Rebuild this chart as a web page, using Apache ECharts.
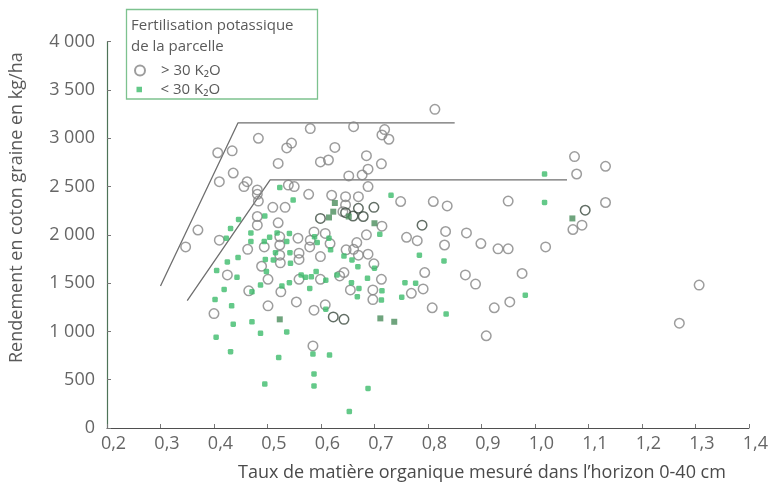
<!DOCTYPE html>
<html>
<head>
<meta charset="utf-8">
<script src="https://cdn.jsdelivr.net/npm/echarts@6/dist/echarts.min.js"></script>
<style>
html,body{margin:0;padding:0;background:#fff;}
#chart{width:771px;height:491px;}
</style>
</head>
<body>
<div id="chart"></div>
<script>
// ---- Data (x: organic matter rate, y: seed cotton yield kg/ha) ----
const xTickLabels = ['0,2','0,3','0,4','0,5','0,6','0,7','0,8','0,9','1,0','1,1','1,2','1,3','1,4'];
const yTickLabels = ['0','500','1 000','1 500','2 000','2 500','3 000','3 500','4 000'];

const seriesNames = ['> 30 K₂O', '< 30 K₂O'];

// > 30 K2O (open circles)
const over30 = [
 [0.58,3100],[0.483,3000],[0.407,2850],[0.434,2870],[0.545,2950],[0.536,2900],[0.626,2905],[0.614,2775],[0.599,2755],[0.52,2740],
 [0.436,2640],[0.41,2550],[0.462,2550],[0.456,2500],[0.539,2515],[0.55,2500],[0.481,2465],[0.481,2420],[0.577,2420],[0.62,2410],
 [0.483,2350],[0.51,2285],[0.533,2285],[0.641,2240],[0.481,2190],[0.52,2125],[0.37,2050],[0.41,1945],[0.347,1875],[0.463,1850],
 [0.481,2100],[0.523,1980],[0.523,1895],[0.557,1965],[0.579,1875],[0.587,2030],[0.58,1945],[0.608,2015],[0.617,1910],[0.494,1875],
 [0.523,1790],[0.524,1710],[0.559,1810],[0.559,1745],[0.599,1775],[0.489,1675],[0.425,1585],[0.501,1540],[0.559,1540],[0.599,1540],
 [0.635,1575],[0.465,1420],[0.525,1410],[0.4,1185],[0.501,1265],[0.554,1305],[0.587,1220],[0.608,1275],[0.585,850],
 [0.813,3300],[0.661,3120],[0.719,3090],[0.714,3035],[0.727,2990],[0.685,2820],[0.713,2735],[0.688,2680],[0.677,2620],[0.652,2610],
 [0.688,2500],[0.646,2395],[0.67,2395],[0.646,2310],[0.749,2345],[0.81,2345],[0.836,2300],[0.95,2350],[0.714,2090],[0.685,2000],
 [0.76,1975],[0.78,1940],[0.833,2035],[0.831,1895],[0.872,2020],[0.899,1910],[0.931,1855],[0.95,1855],[0.667,1920],[0.647,1845],
 [0.67,1790],[0.688,1800],[0.661,1850],[0.699,1700],[0.643,1610],[0.713,1540],[0.655,1430],[0.697,1430],[0.697,1330],[0.794,1610],
 [0.791,1440],[0.769,1395],[0.87,1585],[0.889,1490],[0.976,1600],[0.808,1245],[0.924,1245],[0.953,1305],[0.909,955],
 [1.074,2810],[1.132,2710],[1.078,2630],[1.132,2335],[1.088,2100],[1.071,2055],[1.02,1875],[1.307,1480],[1.27,1085]
];
// > 30 K2O, darker print
const over30Dark = [
 [0.599,2170],[0.67,2275],[0.699,2285],[0.646,2230],[0.66,2195],[0.679,2190],[0.789,2100],[1.094,2255],[0.623,1150],[0.643,1125]
];
// < 30 K2O (green dots)
const under30 = [
 [0.523,2490],[0.548,2360],[0.495,2195],[0.446,2160],[0.431,2065],[0.423,1965],[0.469,2020],[0.469,1930],[0.494,1930],[0.504,1975],
 [0.518,2020],[0.541,2015],[0.536,1930],[0.515,1815],[0.511,1740],[0.496,1745],[0.542,1815],[0.543,1705],[0.588,1980],[0.593,1920],
 [0.615,1965],[0.618,1845],[0.445,1765],[0.425,1720],[0.405,1630],[0.443,1560],[0.498,1620],[0.563,1585],[0.571,1560],[0.582,1565],
 [0.591,1620],[0.609,1530],[0.63,1585],[0.419,1435],[0.487,1480],[0.527,1470],[0.541,1505],[0.579,1445],[0.471,1410],[0.402,1330],
 [0.433,1265],[0.436,1075],[0.471,1100],[0.487,980],[0.536,995],[0.404,940],[0.431,790],[0.521,730],[0.585,765],[0.616,755],
 [0.587,560],[0.587,435],[0.495,455],[0.609,1230],[0.731,2410],[0.71,2005],[0.784,1790],[0.83,1730],[0.643,1780],[0.658,1740],
 [0.669,1670],[0.7,1655],[0.687,1550],[0.657,1505],[0.671,1445],[0.668,1360],[0.714,1420],[0.713,1325],[0.757,1505],[0.777,1500],
 [0.751,1355],[0.834,1180],[0.982,1375],[0.688,410],[0.653,170],[1.018,2630],[1.018,2335]
];
// < 30 K2O, darker print
const under30Dark = [
 [0.626,2330],[0.7,2120],[0.652,2190],[0.615,2180],[0.623,2240],[0.711,1135],[0.737,1100],[1.07,2170],[0.523,1125]
];
// Envelope lines
const envelopeHigh = [[0.30,1470],[0.445,3160],[0.85,3160]];
const envelopeLow  = [[0.35,1320],[0.505,2570],[1.06,2570]];

const FONT = '"Open Sans", "DejaVu Sans", sans-serif';
const TXT = '#5a5a5a';

const chart = echarts.init(document.getElementById('chart'), null, {renderer:'canvas'});
chart.setOption({
  animation:false,
  backgroundColor:'#ffffff',
  textStyle:{fontFamily:FONT},
  grid:{left:107, right:7.5, top:41.7, bottom:63},
  xAxis:{
    type:'value', min:0.2, max:1.4, interval:0.1,
    axisLine:{onZero:false, lineStyle:{color:'#4f4f4f', width:1.2}},
    axisTick:{show:true, inside:true, length:4, lineStyle:{color:'#777'}},
    splitLine:{show:false},
    axisLabel:{
      color:'#666', fontSize:18, margin:7, fontFamily:FONT, padding:[0,0,0,13],
      formatter:v=>xTickLabels[Math.round((v-0.2)/0.1)]
    }
  },
  yAxis:{
    type:'value', min:0, max:4000, interval:500,
    axisLine:{show:true, lineStyle:{color:'#4e7358', width:1.2}},
    axisTick:{show:true, inside:true, length:4, lineStyle:{color:'#777'}},
    splitLine:{show:false},
    axisLabel:{
      color:'#666', fontSize:18, margin:12, fontFamily:FONT,
      formatter:v=>yTickLabels[Math.round(v/500)]
    }
  },
  legend:[
    {data:[{name:seriesNames[0], icon:'circle'}], orient:'vertical', left:134, top:61, padding:0,
     itemWidth:10, itemHeight:10,
     textStyle:{fontSize:15, color:TXT, fontFamily:FONT, lineHeight:19, padding:[0,0,0,11]}},
    {data:[{name:seriesNames[1], icon:'rect'}], orient:'vertical', left:136.5, top:80, padding:0,
     itemWidth:5.5, itemHeight:5.5,
     textStyle:{fontSize:15, color:TXT, fontFamily:FONT, lineHeight:19, padding:[0,0,0,13.5]}}
  ],
  graphic:[
    {type:'rect', shape:{x:126.5, y:9.5, width:191, height:89.5},
     style:{fill:'none', stroke:'#7dc28f', lineWidth:1.3}, silent:true},
    {type:'text', left:131, top:15, silent:true,
     style:{text:'Fertilisation potassique\nde la parcelle', fill:TXT, font:'15px '+FONT, lineHeight:21}},
    {type:'text', left:238, top:464, silent:true,
     style:{text:'Taux de matière organique mesuré dans l’horizon 0-40 cm', fill:'#4a4a4a', font:'18px '+FONT}},
    {type:'text', x:8, y:363, rotation:Math.PI/2, silent:true,
     style:{text:'Rendement en coton graine en kg/ha', fill:TXT, font:'18px '+FONT, textVerticalAlign:'top'}}
  ],
  series:[
    {name:seriesNames[0], type:'scatter', data:over30, symbol:'circle', symbolSize:9.5,
     itemStyle:{color:'rgba(255,255,255,0)', borderColor:'#858585', borderWidth:1.5}, z:3},
    {name:seriesNames[0], type:'scatter', data:over30Dark, symbol:'circle', symbolSize:9.5,
     itemStyle:{color:'rgba(255,255,255,0)', borderColor:'#3b4a3f', borderWidth:1.5}, z:3},
    {name:seriesNames[1], type:'scatter', data:under30, symbol:'roundRect', symbolSize:5.5,
     itemStyle:{color:'#3dbb6b'}, z:4},
    {name:seriesNames[1], type:'scatter', data:under30Dark, symbol:'rect', symbolSize:6,
     itemStyle:{color:'#4b8d5d'}, z:4},
    {type:'line', data:envelopeHigh, symbol:'none', silent:true, lineStyle:{color:'#6f6f6f', width:1.3}, z:2},
    {type:'line', data:envelopeLow, symbol:'none', silent:true, lineStyle:{color:'#6f6f6f', width:1.3}, z:2}
  ]
});
</script>
</body>
</html>
